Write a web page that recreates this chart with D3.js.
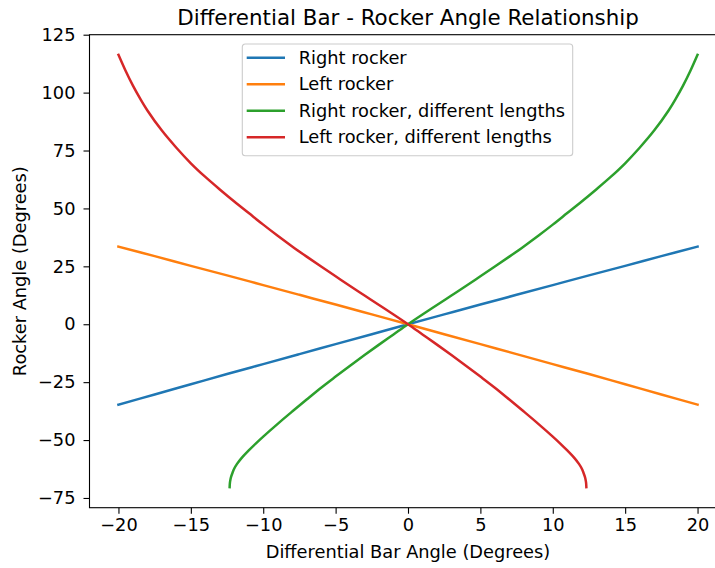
<!DOCTYPE html>
<html>
<head>
<meta charset="utf-8">
<script src="https://cdn.jsdelivr.net/npm/d3@7"></script>
<style>
  html, body { margin: 0; padding: 0; background: #fff; }
  svg { display: block; font-family: 'DejaVu Sans', sans-serif; }
</style>
</head>
<body>
<div id="chart"></div>
<script>
// values
const rockerX = [-20, -17.5, -15, -12.5, -10, -7.5, -5, -2.5, 0, 2.5, 5, 7.5, 10, 12.5, 15, 17.5, 20];
const rightRocker = [-34.7, -30.3, -25.9, -21.5, -17.2, -12.9, -8.6, -4.3, 0, 4.25, 8.5, 12.7, 16.9, 21.1, 25.2, 29.4, 33.5];
const leftRocker = [33.5, 29.4, 25.2, 21.1, 16.9, 12.7, 8.5, 4.25, 0, -4.3, -8.6, -12.9, -17.2, -21.5, -25.9, -30.3, -34.7];

const rightDiffX = [-12.32, -12.3, -12.27, -12.22, -12.12, -12, -11.82, -11.5, -11, -10.5, -10, -9, -8, -7, -6, -5, -4, -3, -2, -1, 0,
  1, 2, 3, 4, 5, 6, 7, 8, 9, 10, 11, 12, 13, 14, 15, 16, 17, 18, 18.5, 19, 19.5, 20];
const rightDiff = [-70.3, -68.4, -67.2, -65.9, -64.1, -62.3, -60.4, -57.8, -54.5, -51.4, -48.5, -43.0, -37.7, -32.5, -27.4, -22.6, -17.9, -13.3, -8.8, -4.4, 0,
  4.2, 8.3, 12.4, 16.5, 20.7, 24.9, 29.2, 33.6, 38.2, 43.0, 48.0, 53.0, 58.2, 63.6, 69.5, 76.2, 83.6, 92.3, 97.4, 103.0, 109.3, 116.3];

const leftDiffX = [-20, -19.5, -19, -18.5, -18, -17, -16, -15, -14, -13, -12, -11, -10, -9, -8, -7, -6, -5, -4, -3, -2, -1, 0,
  1, 2, 3, 4, 5, 6, 7, 8, 9, 10, 10.5, 11, 11.5, 11.82, 12, 12.12, 12.22, 12.27, 12.3, 12.32];
const leftDiff = [116.3, 109.3, 103.0, 97.4, 92.3, 83.6, 76.2, 69.5, 63.6, 58.2, 53.0, 48.0, 43.0, 38.2, 33.6, 29.2, 24.9, 20.7, 16.5, 12.4, 8.3, 4.2, 0,
  -4.4, -8.8, -13.3, -17.9, -22.6, -27.4, -32.5, -37.7, -43.0, -48.5, -51.4, -54.5, -57.8, -60.4, -62.3, -64.1, -65.9, -67.2, -68.4, -70.3];

const xTicks = [-20, -15, -10, -5, 0, 5, 10, 15, 20];
const yTicks = [-75, -50, -25, 0, 25, 50, 75, 100, 125];

const seriesNames = ['Right rocker', 'Left rocker', 'Right rocker, different lengths', 'Left rocker, different lengths'];
const seriesColors = ['#1f77b4', '#ff7f0e', '#2ca02c', '#d62728'];

const series = [
  { name: seriesNames[0], color: seriesColors[0], pts: rockerX.map((x, i) => [x, rightRocker[i]]) },
  { name: seriesNames[1], color: seriesColors[1], pts: rockerX.map((x, i) => [x, leftRocker[i]]) },
  { name: seriesNames[2], color: seriesColors[2], pts: rightDiffX.map((x, i) => [x, rightDiff[i]]) },
  { name: seriesNames[3], color: seriesColors[3], pts: leftDiffX.map((x, i) => [x, leftDiff[i]]) },
];

const width = 715, height = 568;
const margin = { top: 34.7, right: -11.5, bottom: 60.3, left: 89.5 };
const fontSize = '17.8px';

const svg = d3.select('#chart').append('svg')
  .attr('width', width)
  .attr('height', height);

const x = d3.scaleLinear().domain([-22, 22]).range([margin.left, width - margin.right]);
const y = d3.scaleLinear().domain([-79.2, 125]).range([height - margin.bottom, margin.top]);

const fmt = d => (d < 0 ? '\u2212' + Math.abs(d) : '' + d);

// lines
const line = d3.line()
  .x(d => x(d[0]))
  .y(d => y(d[1]))
  .curve(d3.curveCatmullRom.alpha(0.5));

svg.append('g')
  .selectAll('path')
  .data(series)
  .join('path')
  .attr('fill', 'none')
  .attr('stroke', d => d.color)
  .attr('stroke-width', 2.5)
  .attr('stroke-linecap', 'square')
  .attr('d', d => line(d.pts));

// axes
const xAxis = svg.append('g')
  .attr('transform', `translate(0,${height - margin.bottom})`)
  .call(d3.axisBottom(x).tickValues(xTicks).tickFormat(fmt).tickSize(6).tickPadding(5));

const yAxis = svg.append('g')
  .attr('transform', `translate(${margin.left},0)`)
  .call(d3.axisLeft(y).tickValues(yTicks).tickFormat(fmt).tickSize(6).tickPadding(8));

[xAxis, yAxis].forEach(g => {
  g.selectAll('.domain').remove();
  g.selectAll('line').attr('stroke', '#000').attr('stroke-width', 1.1);
  g.selectAll('text')
    .attr('fill', '#000')
    .attr('font-size', fontSize)
    .attr('font-family', 'DejaVu Sans, sans-serif');
});

// spines
svg.append('rect')
  .attr('x', x.range()[0])
  .attr('y', y.range()[1])
  .attr('width', x.range()[1] - x.range()[0])
  .attr('height', y.range()[0] - y.range()[1])
  .attr('fill', 'none')
  .attr('stroke', '#000')
  .attr('stroke-width', 1.1);

// title + labels
const cx = (x.range()[0] + x.range()[1]) / 2;
svg.append('text')
  .attr('x', cx)
  .attr('y', 24.5)
  .attr('text-anchor', 'middle')
  .attr('font-size', '21.4px')
  .attr('fill', '#000')
  .text('Differential Bar - Rocker Angle Relationship');

svg.append('text')
  .attr('x', cx)
  .attr('y', 558)
  .attr('text-anchor', 'middle')
  .attr('font-size', fontSize)
  .attr('fill', '#000')
  .text('Differential Bar Angle (Degrees)');

svg.append('text')
  .attr('transform', `translate(26,${(y.range()[0] + y.range()[1]) / 2}) rotate(-90)`)
  .attr('text-anchor', 'middle')
  .attr('font-size', fontSize)
  .attr('fill', '#000')
  .text('Rocker Angle (Degrees)');

// legend (upper center)
const legend = svg.append('g').attr('transform', 'translate(242.3,44)');
legend.append('rect')
  .attr('width', 330.4)
  .attr('height', 111.7)
  .attr('rx', 3)
  .attr('fill', '#fff')
  .attr('fill-opacity', 0.8)
  .attr('stroke', '#cccccc')
  .attr('stroke-width', 1.1);

const item = legend.selectAll('g.item')
  .data(series)
  .join('g')
  .attr('class', 'item')
  .attr('transform', (d, i) => `translate(0,${13.7 + i * 26.5})`);

item.append('line')
  .attr('x1', 4.4).attr('x2', 42.7)
  .attr('stroke', d => d.color)
  .attr('stroke-width', 2.5);

item.append('text')
  .attr('x', 56.4)
  .attr('dy', '0.35em')
  .attr('font-size', fontSize)
  .attr('fill', '#000')
  .text(d => d.name);
</script>
</body>
</html>
